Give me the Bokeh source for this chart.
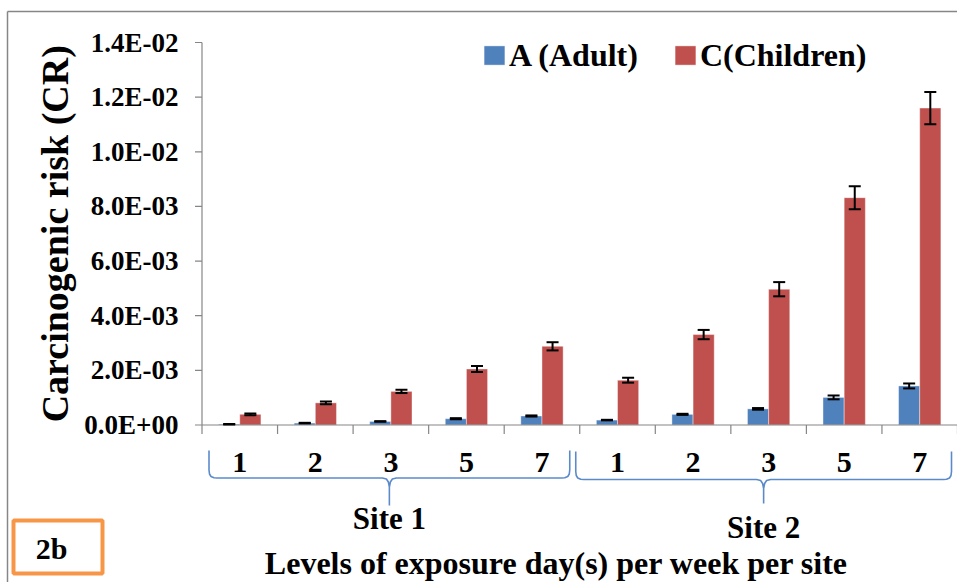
import numpy as np
from bokeh.plotting import figure
from bokeh.models import (Range1d, Whisker, TeeHead, ColumnDataSource, Legend, LegendItem)
from bokeh.core.properties import value
from bokeh.embed import file_html
from bokeh.resources import INLINE

# ---------------- data ----------------
sites = ["Site 1", "Site 2"]
days = ["1", "2", "3", "5", "7"]
adult = [0.03e-3, 0.07e-3, 0.13e-3, 0.23e-3, 0.33e-3,
         0.18e-3, 0.39e-3, 0.59e-3, 1.01e-3, 1.43e-3]
adult_err = [0.01e-3, 0.01e-3, 0.01e-3, 0.02e-3, 0.02e-3,
             0.01e-3, 0.02e-3, 0.03e-3, 0.07e-3, 0.09e-3]
child = [0.39e-3, 0.81e-3, 1.23e-3, 2.05e-3, 2.88e-3,
         1.64e-3, 3.31e-3, 4.97e-3, 8.32e-3, 11.6e-3]
child_err = [0.03e-3, 0.05e-3, 0.06e-3, 0.11e-3, 0.15e-3,
             0.09e-3, 0.17e-3, 0.26e-3, 0.42e-3, 0.59e-3]
y_ticks = [0.0, 0.002, 0.004, 0.006, 0.008, 0.010, 0.012, 0.014]
y_tick_labels = ["0.0E+00", "2.0E-03", "4.0E-03", "6.0E-03", "8.0E-03",
                 "1.0E-02", "1.2E-02", "1.4E-02"]
series_names = ["A (Adult)", "C(Children)"]
y_title = "Carcinogenic risk (CR)"
x_title = "Levels of exposure day(s) per week per site"
panel_tag = "2b"

# ---------------- layout constants ----------------
W, H = 957, 582
FL = 201.5          # pixel column of the value axis
Y0_PX = 424.5       # pixel row of y = 0
YTOP_PX = 42        # pixel row of top tick
YMAX = y_ticks[-1]
k = (Y0_PX - YTOP_PX) / YMAX
n_cat = len(sites) * len(days)
ux = (W - FL) / n_cat

def dx(px):
    return (px - FL) / ux

def dy(py):
    return (Y0_PX - py) / k

FNAME = "'Liberation Serif'"
F = value(FNAME)
BLUE = "#4F81BD"
RED = "#C0504D"
GRAY = "#868686"
BRACE = "#5B8ACB"

p = figure(width=W, height=H, x_range=Range1d(dx(0), dx(W)), y_range=Range1d(dy(H), dy(0)),
           output_backend="svg", toolbar_location=None,
           x_axis_location=None, y_axis_location=None,
           min_border_left=0, min_border_right=0, min_border_top=0, min_border_bottom=0)
p.outline_line_color = None
p.grid.visible = False
p.background_fill_color = "white"
p.border_fill_color = "white"

# outer border (left + top)
p.segment(x0=[dx(7), dx(7)], y0=[dy(11), dy(11)], x1=[dx(7), dx(W + 5)], y1=[dy(H + 5), dy(11)],
          line_color=GRAY, line_width=1.5)

# value axis
p.segment(x0=0, y0=0, x1=0, y1=YMAX, line_color=GRAY, line_width=1.2)
p.segment(x0=dx(FL - 7), y0=y_ticks, x1=0, y1=y_ticks, line_color=GRAY, line_width=1.2)
p.text(x=dx(178), y=y_ticks, text=y_tick_labels, text_font=F, text_font_style="bold",
       text_font_size="27px", text_align="right", text_baseline="middle", text_color="black")
p.text(x=[dx(54)], y=[YMAX / 2], text=[y_title], angle=np.pi / 2, text_font=F,
       text_font_style="bold", text_font_size="38px", text_align="center",
       text_baseline="middle", text_color="black")

# bars
centers = np.arange(n_cat) + 0.5
bw = 0.28
xa = centers - bw / 2
xc = centers + bw / 2
r_a = p.vbar(x=xa, top=adult, width=bw, fill_color=BLUE, line_color="white", line_alpha=0.4, line_width=1)
r_c = p.vbar(x=xc, top=child, width=bw, fill_color=RED, line_color="white", line_alpha=0.4, line_width=1)

for xs, vals, errs in ((xa, adult, adult_err), (xc, child, child_err)):
    v = np.array(vals); e = np.array(errs)
    src = ColumnDataSource(dict(x=xs, lo=v - e, hi=v + e))
    w = Whisker(source=src, base="x", lower="lo", upper="hi", line_color="black", line_width=2,
                upper_head=TeeHead(size=12, line_width=2, line_color="black"),
                lower_head=TeeHead(size=12, line_width=2, line_color="black"),
                level="overlay")
    p.add_layout(w)

# category axis line + boundary ticks
p.segment(x0=0, y0=0, x1=n_cat, y1=0, line_color=GRAY, line_width=1.2)
bounds = np.arange(n_cat + 1)
p.segment(x0=bounds, y0=0, x1=bounds, y1=dy(Y0_PX + 9), line_color=GRAY, line_width=1.2)

# category labels
cat_labels = [d for s in sites for d in days]
p.text(x=centers, y=dy(462), text=cat_labels, text_font=F, text_font_style="bold",
       text_font_size="30px", text_align="center", text_baseline="middle", text_color="black")

# braces
def brace(x0, x1, top, line, tip):
    m = (x0 + x1) / 2
    pts = [(x0, top), (x0, line - 8), (x0 + 0.5, line - 4), (x0 + 2, line - 1.5), (x0 + 5, line - 0.2), (x0 + 8, line),
           (m - 7, line), (m - 3, line + 1), (m - 1, line + 4), (m, line + 9), (m, tip),
           (m, line + 9), (m + 1, line + 4), (m + 3, line + 1), (m + 7, line),
           (x1 - 8, line), (x1 - 5, line - 0.2), (x1 - 2, line - 1.5), (x1 - 0.5, line - 4), (x1, line - 8), (x1, top)]
    return [dx(a) for a, b in pts], [dy(b) for a, b in pts]

bxs, bys, mids = [], [], []
brace_geo = [(FL + 7, FL + 5 * ux - 10, 450, 477.5, 505), (FL + 5 * ux - 4, W - 6, 451, 479, 503)]
for (a, b, t, l, tp) in brace_geo:
    xs_, ys_ = brace(a, b, t, l, tp)
    bxs.append(xs_); bys.append(ys_); mids.append(dx((a + b) / 2))
p.multi_line(xs=bxs, ys=bys, line_color=BRACE, line_width=1.6)

site_y = [dy(518), dy(527)]
p.text(x=mids, y=site_y, text=sites, text_font=F, text_font_style="bold",
       text_font_size="31px", text_align="center", text_baseline="middle", text_color="black")

# x title
p.text(x=[dx(556)], y=[dy(562)], text=[x_title], text_font=F,
       text_font_style="bold", text_font_size="32px", text_align="center",
       text_baseline="middle", text_color="black")

# panel tag box
p.quad(left=[dx(13)], right=[dx(102)], top=[dy(520)], bottom=[dy(573)],
       fill_color=None, line_color="#F79646", line_width=4)
p.text(x=[dx(51)], y=[dy(548)], text=[panel_tag], text_font=F,
       text_font_style="bold", text_font_size="30px", text_align="center",
       text_baseline="middle", text_color="black")

# legend
legend = Legend(items=[LegendItem(label=series_names[0], renderers=[r_a]),
                       LegendItem(label=series_names[1], renderers=[r_c])],
                orientation="horizontal", location=(481, H - 73.5),
                glyph_width=26, glyph_height=24, label_standoff=2, spacing=34,
                padding=0, margin=0, border_line_color=None, background_fill_alpha=0,
                label_text_font=FNAME, label_text_font_style="bold",
                label_text_font_size="32px", label_text_color="black")
p.add_layout(legend)

open("out.html", "w").write(file_html(p, INLINE))
